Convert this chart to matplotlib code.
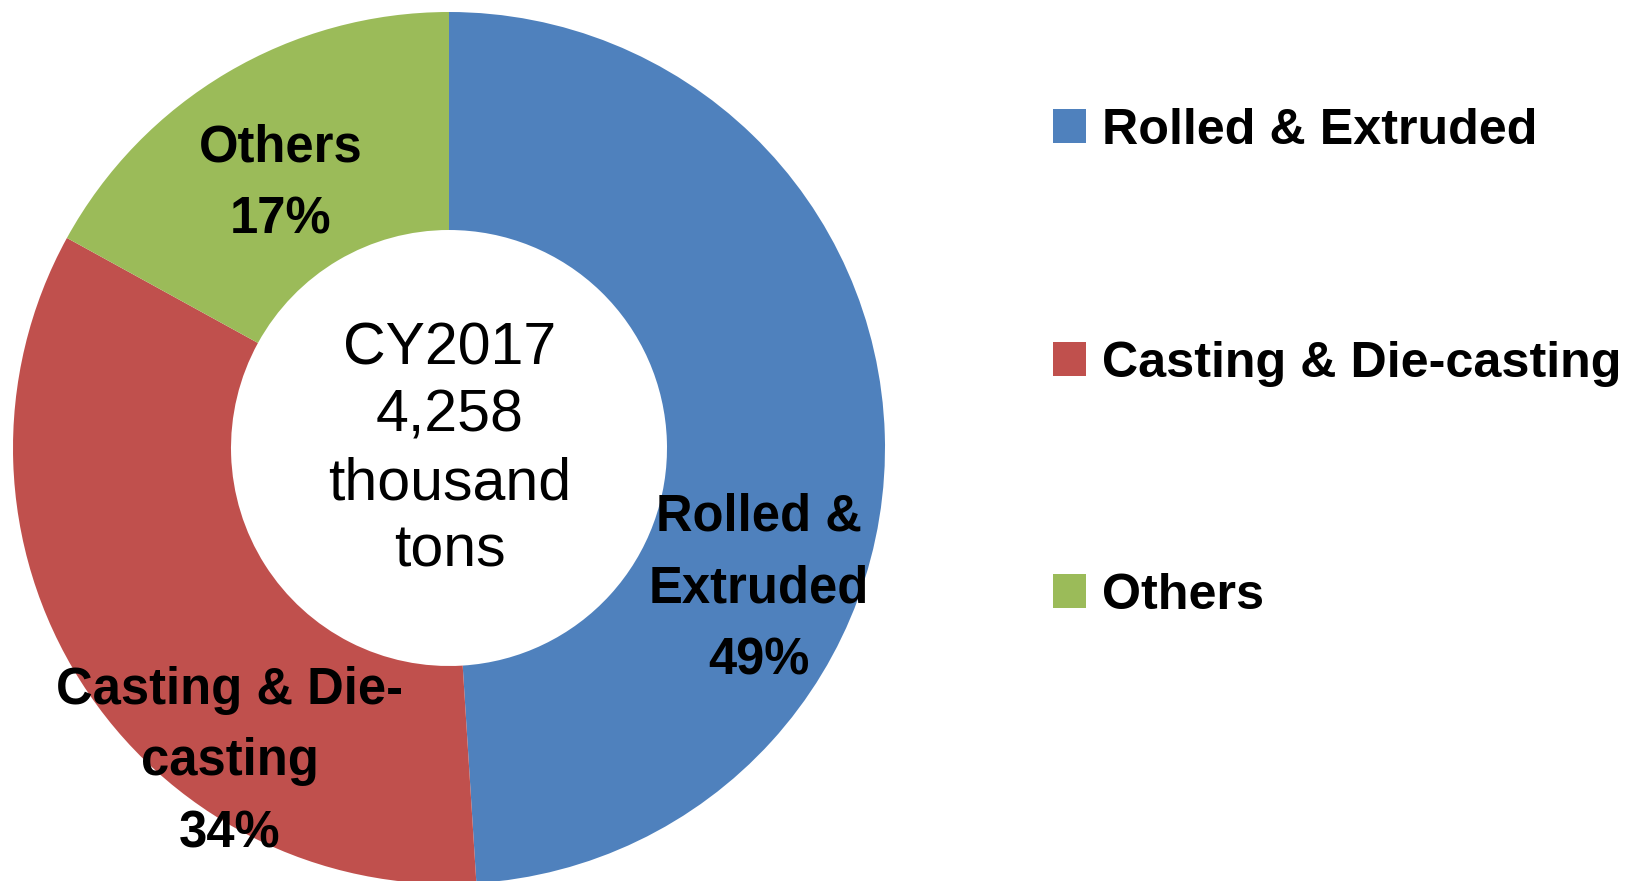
import matplotlib
matplotlib.use("Agg")
import matplotlib.pyplot as plt

categories = ["Rolled & Extruded", "Casting & Die-casting", "Others"]
shares = [49, 34, 17]
slice_labels = ["Rolled &\nExtruded\n49%", "Casting & Die-\ncasting\n34%", "Others\n17%"]
center_text = "CY2017\n4,258\nthousand\ntons"
colors = ["#4F81BD", "#C0504D", "#9BBB59"]

W, H, DPI = 1631, 881, 100
fig = plt.figure(figsize=(W / DPI, H / DPI), dpi=DPI)
ax = fig.add_axes([0, 0, 1, 1])

cx, cy, R = 449, 448, 436  # pixel geometry of the donut


def px(x, y):
    return (x - cx) / R, (cy - y) / R


ax.axis("off")
wedges, _ = ax.pie(shares, colors=colors, startangle=90, counterclock=False,
                   radius=1.0, wedgeprops=dict(width=0.5, linewidth=0))
ax.set_xlim(-cx / R, (W - cx) / R)
ax.set_ylim(-(H - cy) / R, cy / R)
ax.set_aspect("auto")

font = "Liberation Sans"
label_pos = [(759, 589), (230, 762), (281, 184)]
for lab, (x, y) in zip(slice_labels, label_pos):
    ax.text(*px(x, y), lab, ha="center", va="center", fontsize=36.5,
            fontweight="bold", family=font, linespacing=1.6, color="black")

ax.text(*px(450, 450), center_text, ha="center", va="center", fontsize=42.5,
        family=font, linespacing=1.28, color="black")

leg = fig.legend(wedges, categories, loc="upper left",
                 bbox_to_anchor=(1053 / W, 1 - 108 / H),
                 bbox_transform=fig.transFigure, frameon=False,
                 prop=dict(family=font, weight="bold", size=36.2),
                 handlelength=0.66, handleheight=0.66, handletextpad=0.32,
                 labelspacing=3.71, borderpad=0, borderaxespad=0)

fig.savefig("out.png", dpi=DPI)
